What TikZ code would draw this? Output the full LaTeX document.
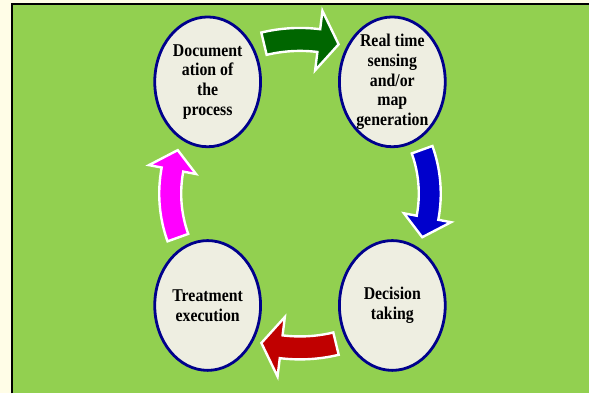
\documentclass[tikz,border=0pt]{standalone}
\usepackage{fontspec}
\setmainfont{Liberation Serif}[FakeStretch=0.88]
\usepackage{xcolor}
\usetikzlibrary{calc}
\usetikzlibrary{shapes.geometric}

\definecolor{cream}{RGB}{255,253,231}
\definecolor{leafgreen}{RGB}{146,208,80}
\definecolor{stagefill}{RGB}{238,238,225}
\definecolor{stageblue}{RGB}{0,0,140}
\definecolor{arrowgreen}{RGB}{0,102,0}
\definecolor{arrowblue}{RGB}{0,0,204}
\definecolor{arrowred}{RGB}{192,0,0}
\definecolor{arrowpink}{RGB}{255,0,255}

\begin{document}
\begin{tikzpicture}[x=1pt,y=1pt]
    \tikzstyle{stage}=[ellipse,draw=stageblue,line width=2.8pt,fill=stagefill,minimum width=106pt,minimum height=130pt,inner xsep=0pt,inner ysep=-20pt,align=center,font=\fontsize{18}{19.8}\selectfont\bfseries]
    \tikzstyle{flow}=[draw=white,line width=2.4pt,line join=miter]

    \coordinate (c) at (0,0);

    % Background
    \fill[cream] (-300.5,-200) rectangle (289.5,194);
    \fill[leafgreen] (-288.5,-200) rectangle (289.5,190);
    \draw[black,line width=2pt] (-288.5,-200) -- (-288.5,190) -- (289.5,190);
    \useasboundingbox (-300.5,-200) rectangle (289.5,194);

    % Stages
    \node[style=stage] (doc) at ($(c)+(-92.5,112)$) {Document\\ation of\\the\\process};
    \node[style=stage] (sense) at ($(c)+(92.5,112)$) {Real time\\sensing\\and/or\\map\\generation};
    \node[style=stage] (decide) at ($(c)+(92.5,-112)$) {Decision\\taking};
    \node[style=stage] (treat) at ($(c)+(-92.5,-112)$) {Treatment\\execution};

    % Top arrow
    \filldraw[style=flow,fill=arrowgreen] ($(c)+(103.5:166)$) arc[start angle=103.5,end angle=83,radius=166]
        -- ($(c)+(83:184.5)$) -- ($(c)+(75.5:154.5)$) -- ($(c)+(83:124.5)$)
        -- ($(c)+(83:143)$) arc[start angle=83,end angle=103.5,radius=143] -- cycle;

    % Right arrow
    \filldraw[style=flow,fill=arrowblue] ($(c)+(19.8:141)$) arc[start angle=19.8,end angle=-10.7,radius=141]
        -- ($(c)+(-10.7:154)$) -- ($(c)+(-19.6:130)$) -- ($(c)+(-10.7:106)$)
        -- ($(c)+(-10.7:119)$) arc[start angle=-10.7,end angle=19.8,radius=119] -- cycle;

    % Bottom arrow
    \filldraw[style=flow,fill=arrowred] ($(c)+(-76.5:166)$) arc[start angle=-76.5,end angle=-97,radius=166]
        -- ($(c)+(-97:184.5)$) -- ($(c)+(-104.5:154.5)$) -- ($(c)+(-97:124.5)$)
        -- ($(c)+(-97:143)$) arc[start angle=-97,end angle=-76.5,radius=143] -- cycle;

    % Left arrow
    \filldraw[style=flow,fill=arrowpink] ($(c)+(199.8:141)$) arc[start angle=199.8,end angle=169.3,radius=141]
        -- ($(c)+(169.3:154)$) -- ($(c)+(160.4:130)$) -- ($(c)+(169.3:106)$)
        -- ($(c)+(169.3:119)$) arc[start angle=169.3,end angle=199.8,radius=119] -- cycle;

\end{tikzpicture}
\end{document}
